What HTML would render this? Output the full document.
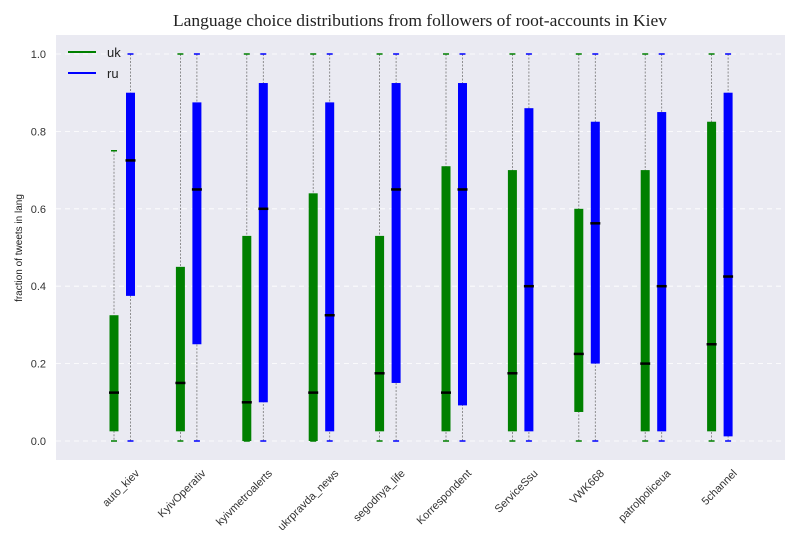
<!DOCTYPE html><html><head><style>body{margin:0;background:#fff}svg{font-family:"Liberation Sans",sans-serif}</style></head><body>
<svg id="s" width="800" height="550" xmlns="http://www.w3.org/2000/svg">
<rect x="56" y="35" width="729" height="425" fill="#eaeaf2"/>
<text x="420" y="26" text-anchor="middle" font-family="Liberation Serif, serif" font-size="17" textLength="494" lengthAdjust="spacingAndGlyphs" fill="#222">Language choice distributions from followers of root-accounts in Kiev</text>
<text transform="translate(22,248) rotate(-90)" text-anchor="middle" font-size="10" fill="#222">fraction of tweets in lang</text>
<g id="g"></g>
<line x1="68" y1="52" x2="96" y2="52" stroke="green" stroke-width="2"/><text x="107" y="57" font-size="13" fill="#222">uk</text>
<line x1="68" y1="73" x2="96" y2="73" stroke="blue" stroke-width="2"/><text x="107" y="78" font-size="13" fill="#222">ru</text>
</svg>
<script>
const g=document.getElementById('g');let h='';
const Y=v=>441-387*v;
for(let i=0;i<=5;i++){const v=i*0.2,y=Y(v);h+=`<line x1="56" x2="785" y1="${y}" y2="${y}" stroke="#fff" stroke-dasharray="5,4" stroke-width="0.8"/><text x="46" y="${y+4}" text-anchor="end" font-size="11" fill="#333">${v.toFixed(1)}</text>`;}
const names=["auto_kiev","KyivOperativ","kyivmetroalerts","ukrpravda_news","segodnya_life","Korrespondent","ServiceSsu","VWK668","patrolpoliceua","5channel"];
const uk=[[.025,.325,.125,0,.75],[.025,.45,.15,0,1],[0,.53,.1,0,1],[0,.64,.125,0,1],[.025,.53,.175,0,1],[.025,.71,.125,0,1],[.025,.7,.175,0,1],[.075,.6,.225,0,1],[.025,.7,.2,0,1],[.025,.825,.25,0,1]];
const ru=[[.375,.9,.725,0,1],[.25,.875,.65,0,1],[.1,.925,.6,0,1],[.025,.875,.325,0,1],[.15,.925,.65,0,1],[.092,.925,.65,0,1],[.025,.86,.4,0,1],[.2,.825,.5625,0,1],[.025,.85,.4,0,1],[.012,.9,.425,0,1]];
function box(x,d,c){const[q1,q3,m,lo,hi]=d;let s=`<line x1="${x}" x2="${x}" y1="${Y(hi)}" y2="${Y(lo)}" stroke="#777" stroke-width="0.8" stroke-dasharray="2,1.5"/>`;
s+=`<line x1="${x-3}" x2="${x+3}" y1="${Y(hi)}" y2="${Y(hi)}" stroke="${c}" stroke-width="1.5"/><line x1="${x-3}" x2="${x+3}" y1="${Y(lo)}" y2="${Y(lo)}" stroke="${c}" stroke-width="1.5"/>`;
s+=`<rect x="${x-4.5}" y="${Y(q3)}" width="9" height="${Y(q1)-Y(q3)}" fill="${c}"/><line x1="${x-5}" x2="${x+5}" y1="${Y(m)}" y2="${Y(m)}" stroke="#000" stroke-width="2.5"/>`;return s;}
for(let i=0;i<10;i++){const x=114+i*66.4;h+=box(x,uk[i],'green')+box(x+16.5,ru[i],'blue');
h+=`<text transform="translate(${x+26},474) rotate(-45)" text-anchor="end" font-size="11" fill="#333">${names[i]}</text>`;}
g.innerHTML=h;
</script></body></html>
